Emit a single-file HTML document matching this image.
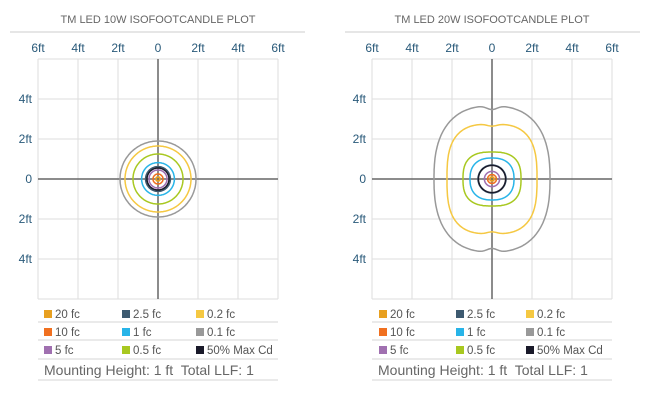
<!DOCTYPE html>
<html><head><meta charset="utf-8"><style>
body{margin:0;background:#fff;width:650px;height:401px;overflow:hidden;font-family:"Liberation Sans",sans-serif}
svg{display:block}
</style></head><body>
<svg id="s" width="650" height="401"></svg>
<script>
const levels=["20 fc","10 fc","5 fc","2.5 fc","1 fc","0.5 fc","0.2 fc","0.1 fc","50% Max Cd"];
const colors=["#e8a020","#f07020","#a070b0","#3d5a70","#28b4e8","#a8c820","#f5c842","#999999","#1a1a2a"];
// left chart (10W): radius in ft
const left10W=[0.1,0.25,0.45,0.62,0.82,1.25,1.65,1.9,0.55];
// right chart (20W): half-width, half-height in ft, squareness, dip depth
const right20W_hw=[0.1,0.22,0.38,0.7,1.1,1.45,2.25,2.9,0.68];
const right20W_hh=[0.1,0.22,0.38,0.7,1.05,1.35,2.75,3.65,0.68];
const right20W_sq=[2,2,2,2,2.4,2.7,2.9,2.5,2];
const right20W_dip=[0,0,0,0,0,0,0.04,0.05,0];
const xTicks=["6ft","4ft","2ft","0","2ft","4ft","6ft"];
const yTicks=["4ft","2ft","0","2ft","4ft"];
const titles=["TM LED 10W ISOFOOTCANDLE PLOT","TM LED 20W ISOFOOTCANDLE PLOT"];
const NS="http://www.w3.org/2000/svg";
const svg=document.getElementById('s');
function mk(t,a,p){const e=document.createElementNS(NS,t);for(const k in a)e.setAttribute(k,a[k]);(p||svg).appendChild(e);return e;}
const order=[7,6,5,4,3,8,2,1,0];
[0,1].forEach(ci=>{
  const x0=ci?372:38, y0=59, W=240, H=240, cx=x0+120, cy=179, sc=20;
  const g=mk('g',{});
  
  
  const t=mk('text',{x:cx,y:23,'text-anchor':'middle','font-size':11,fill:'#666'},g);t.textContent=titles[ci];
  
  mk('line',{x1:ci?345:10,x2:ci?640:305,y1:32,y2:32,stroke:'#ddd','stroke-width':1.5},g);
  for(let i=0;i<=6;i++){const x=x0+i*40;mk('line',{x1:x,x2:x,y1:y0,y2:y0+H,stroke:'#ddd'},g);
    const tx=mk('text',{x:x,y:52,'text-anchor':'middle','font-size':12,fill:'#2a5a7a'},g);tx.textContent=xTicks[i];
    }
  for(let i=0;i<=6;i++){const y=y0+i*40;mk('line',{x1:x0,x2:x0+W,y1:y,y2:y,stroke:'#ddd'},g);}
  for(let i=0;i<5;i++){const y=99+i*40;const ty=mk('text',{x:x0-6,y:y+4,'text-anchor':'end','font-size':12,fill:'#2a5a7a'},g);ty.textContent=yTicks[i];
    }
  mk('line',{x1:cx,x2:cx,y1:y0,y2:y0+H,stroke:'#666','stroke-width':1.5},g);
  mk('line',{x1:x0,x2:x0+W,y1:cy,y2:cy,stroke:'#666','stroke-width':1.5},g);
  order.forEach(k=>{
    let d='';
    for(let j=0;j<=240;j++){const a=j/240*2*Math.PI;let px,py;
      if(ci===0){px=left10W[k]*Math.cos(a);py=left10W[k]*Math.sin(a);}
      else{const n=right20W_sq[k],c=Math.cos(a),s=Math.sin(a);
        px=right20W_hw[k]*Math.sign(c)*Math.pow(Math.abs(c),2/n);
        py=right20W_hh[k]*Math.sign(s)*Math.pow(Math.abs(s),2/n);
        py*=1-right20W_dip[k]*Math.exp(-Math.pow(px/0.35,2));}
      d+=(j?'L':'M')+(cx+px*sc).toFixed(1)+' '+(cy+py*sc).toFixed(1);}
    const p=mk('path',{d:d+'Z',fill:'none',stroke:colors[k],'stroke-width':1.5},g);
    
    
  });
  const colsX=ci?[379,456,526]:[44,122,196];
  for(let i=0;i<9;i++){const c=Math.floor(i/3),r=i%3;const x=colsX[c],y=314+r*18;
    mk('rect',{x:x,y:y-4,width:8,height:8,fill:colors[i]},g);
    const lt=mk('text',{x:x+11,y:y+4,'font-size':11.5,fill:'#555'},g);lt.textContent=levels[i];
    }
  [322,340,359,380].forEach(y=>mk('line',{x1:x0,x2:x0+W,y1:y,y2:y,stroke:'#ddd','stroke-width':1.2},g));
  const m=mk('text',{x:x0+6,y:375,'font-size':14,fill:'#666'},g);m.textContent='Mounting Height: 1 ft  Total LLF: 1';
  m.setAttribute('xml:space','preserve');m.style.whiteSpace='pre';
  
});
</script>
</body></html>
